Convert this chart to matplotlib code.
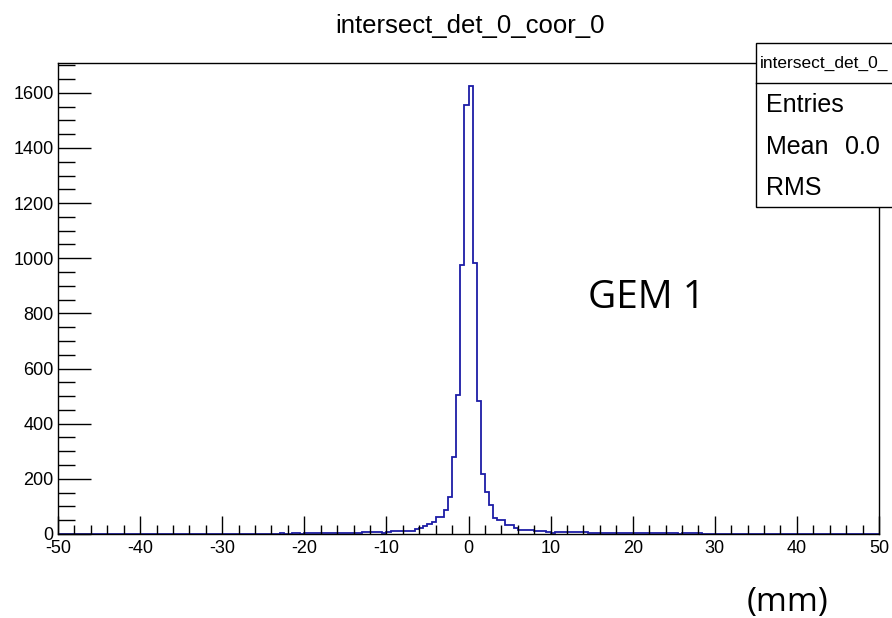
import numpy as np
import matplotlib.pyplot as plt
from matplotlib.patches import Rectangle
from matplotlib.ticker import MultipleLocator

plt.rcParams['font.family'] = ['Liberation Sans', 'DejaVu Sans']
plt.rcParams['axes.unicode_minus'] = False

# bin counts, 0.5 mm bins from -50 to 50
left_far = [0,0,0,0,0,0,0,0,0,0, 0,0,0,0,0,0,0,1,0,0,
            0,0,0,0,0,1,0,0,0,0, 1,0,0,1,0,0,0,1,0,0,
            0,1,0,0,1,0,0,1,0,1]              # -50 .. -25
left_near = [1,0,1,1,2,1,1,2,2,1, 3,4,3,2,2,3,4,2,3,2]   # -25 .. -15
core = [2,2,3,2,6,6,7,8,6,4,                 # -15 .. -10.5
        6,11,11,11,10,10,10,17,20,29,        # -10 .. -5.5
        35,42,60,60,86,134,279,503,976,1555, # -5 .. -0.5
        1625,981,483,219,152,104,58,52,52,32,  # 0 .. 4.5
        32,23,16,16,16,16,11,11,11,7,        # 5 .. 9.5
        5,9,9,9,9,9,6,6,6,3]                 # 10 .. 14.5
right_near = [3,2,2,3,2,2,2,3,3,4, 4,4,3,2,2,3,2,3,3,2]  # 15 .. 25
right_far = [2,1,2,2,2,3,3,1,1,1, 1,0,1,1,1,0,1,0,1,1,
             0,1,0,0,1,1,1,0,0,0, 0,0,1,0,0,0,0,0,0,0,
             0,0,0,0,0,0,0,0,0,0]             # 25 .. 50
counts = np.array(left_far + left_near + core + right_near + right_far)
edges = np.linspace(-50, 50, len(counts) + 1)

fig = plt.figure(figsize=(8.92, 6.18), dpi=100)
W, H = 892, 618
ax = fig.add_axes([58/W, 1 - 534/H, (879-58)/W, (534-63)/H])

ax.stairs(counts, edges, color='#1c1ca6', linewidth=1.3)
ax.set_xlim(-50, 50)
ax.set_ylim(0, 1708)

ax.xaxis.set_major_locator(MultipleLocator(10))
ax.xaxis.set_minor_locator(MultipleLocator(2))
ax.yaxis.set_major_locator(MultipleLocator(200))
ax.yaxis.set_minor_locator(MultipleLocator(50))
ax.tick_params(axis='x', which='major', direction='in', length=13, width=1, labelsize=13, pad=4)
ax.tick_params(axis='x', which='minor', direction='in', length=6.5, width=1)
ax.tick_params(axis='y', which='major', direction='in', length=24, width=1, labelsize=13, pad=3)
ax.tick_params(axis='y', which='minor', direction='in', length=12, width=1)
for s in ax.spines.values():
    s.set_linewidth(1)

fig.text(470/W, 1 - 26/H, 'intersect_det_0_coor_0', ha='center', va='center', fontsize=18.5)

# stats box (cut off at the right edge)
box = Rectangle((756/W, 1 - 207/H), 200/W, (207-43)/H, transform=fig.transFigure,
                facecolor='white', edgecolor='black', linewidth=1, zorder=5)
fig.add_artist(box)
fig.add_artist(plt.Line2D([756/W, 1.0], [1 - 83/H, 1 - 83/H], transform=fig.transFigure,
                          color='black', linewidth=1, zorder=6))
fig.text(760/W, 1 - 63/H, 'intersect_det_0_', ha='left', va='center', fontsize=12.5, zorder=7)
fig.text(766/W, 1 - 105/H, 'Entries', ha='left', va='center', fontsize=18, zorder=7)
fig.text(766/W, 1 - 147/H, 'Mean', ha='left', va='center', fontsize=18, zorder=7)
fig.text(845/W, 1 - 147/H, '0.0', ha='left', va='center', fontsize=18, zorder=7)
fig.text(766/W, 1 - 188/H, 'RMS', ha='left', va='center', fontsize=18, zorder=7)

fig.text(647/W, 1 - 298/H, 'GEM 1', ha='center', va='center', fontsize=28, family='Open Sans')
fig.text(787/W, 1 - 602/H, '(mm)', ha='center', va='center', fontsize=24, family='Open Sans')

fig.savefig('out.png', dpi=100)
